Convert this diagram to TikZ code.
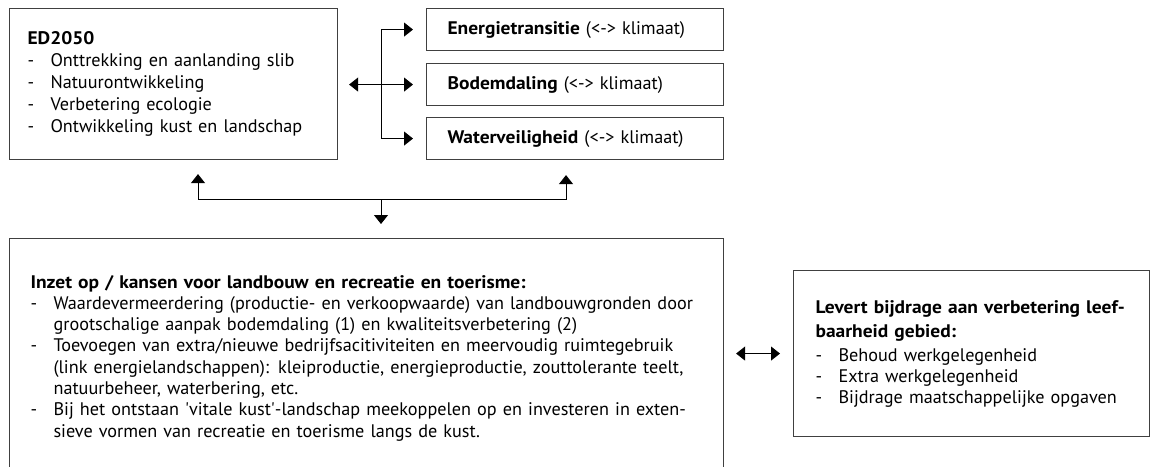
\documentclass[tikz,border=0pt]{standalone}
\usepackage{fontspec}
\setmainfont{PT Sans}[BoldFeatures={FakeStretch=1.07}]
\usetikzlibrary{positioning,arrows.meta,calc}

\newcommand{\itm}[1]{\mbox{\makebox[23pt][l]{-}#1}}
\newcommand{\cnt}[1]{\mbox{\hspace*{23pt}#1}}

\begin{document}
\begin{tikzpicture}[x=1pt,y=-1pt,
  box/.style={draw=black!75, line width=1.1pt, align=left, inner ysep=0pt,
    font=\fontsize{18.2}{22}\selectfont},
  arr/.style={line width=0.9pt, -{Triangle[length=9pt,width=14pt]}},
  dbl/.style={line width=0.9pt,
    {Triangle[length=9pt,width=14pt]}-{Triangle[length=9pt,width=14pt]}}]
  \useasboundingbox (0,0) rectangle (1150,466);
  \clip (0,0) rectangle (1150,466);

  % top row
  \node[box, anchor=north west, minimum height=151pt, text width=292pt,
    inner xsep=18pt] (ed) at (9,8) {\textbf{ED2050}\\
    \itm{Onttrekking en aanlanding slib}\\
    \itm{Natuurontwikkeling}\\
    \itm{Verbetering ecologie}\\
    \itm{Ontwikkeling kust en landschap}};
  \node[box, anchor=north west, minimum height=42pt, text width=255pt,
    inner xsep=21pt] (energie) at (426,8) {\textbf{Energietransitie} (<-> klimaat)};
  \node[box, anchor=north west, minimum height=42pt, text width=255pt,
    inner xsep=21pt] (bodem) at (426,63) {\textbf{Bodemdaling} (<-> klimaat)};
  \node[box, anchor=north west, minimum height=42pt, text width=255pt,
    inner xsep=21pt] (water) at (426,117) {\textbf{Waterveiligheid} (<-> klimaat)};

  % bottom row
  \node[box, anchor=north west, minimum height=239pt, text width=672pt,
    inner xsep=21pt, font=\fontsize{18.2}{21.3}\selectfont] (land) at (9,238) {%
    \textbf{Inzet op / kansen voor landbouw en recreatie en toerisme:}\\
    \itm{Waardevermeerdering (productie- en verkoopwaarde) van landbouwgronden door}\\
    \cnt{grootschalige aanpak bodemdaling (1) en kwaliteitsverbetering (2)}\\
    \itm{Toevoegen van extra/nieuwe bedrijfsacitiviteiten en meervoudig ruimtegebruik}\\
    \cnt{(link energielandschappen): kleiproductie, energieproductie, zouttolerante teelt,}\\
    \cnt{natuurbeheer, waterbering, etc.}\\
    \itm{Bij het ontstaan \textquotesingle vitale kust\textquotesingle -landschap meekoppelen op en investeren in exten-}\\
    \cnt{sieve vormen van recreatie en toerisme langs de kust.}};
  \node[box, anchor=north west, minimum height=166pt, text width=312pt,
    inner xsep=22pt, font=\fontsize{18.2}{21}\selectfont] (leef) at (793,270) {%
    \textbf{Levert bijdrage aan verbetering leef-}\\[3pt]
    \textbf{baarheid gebied:}\\[3pt]
    \itm{Behoud werkgelegenheid}\\
    \itm{Extra werkgelegenheid}\\
    \itm{Bijdrage maatschappelijke opgaven}};

  % connectors
  \coordinate (split) at (381,0);
  \coordinate (hubl) at (198,199);
  \coordinate (hub) at (381,199);
  \coordinate (hubr) at (566,199);
  \draw[dbl, shorten <=11pt, shorten >=13pt] (ed.east |- bodem.west) -- (bodem.west);
  \draw[dbl, shorten <=13pt, shorten >=13pt] (energie.west) -- (split |- energie.west)
    -- (split |- water.west) -- (water.west);
  \draw[dbl, shorten <=14pt, shorten >=15pt] (hubl |- ed.south) -- (hubl) -- (hubr)
    -- (hubr |- water.south);
  \draw[arr, shorten >=14pt] (hub) -- (hub |- land.north);
  \draw[dbl, shorten <=12pt, shorten >=13pt] (land.east |- leef.west) -- (leef.west);
\end{tikzpicture}
\end{document}
